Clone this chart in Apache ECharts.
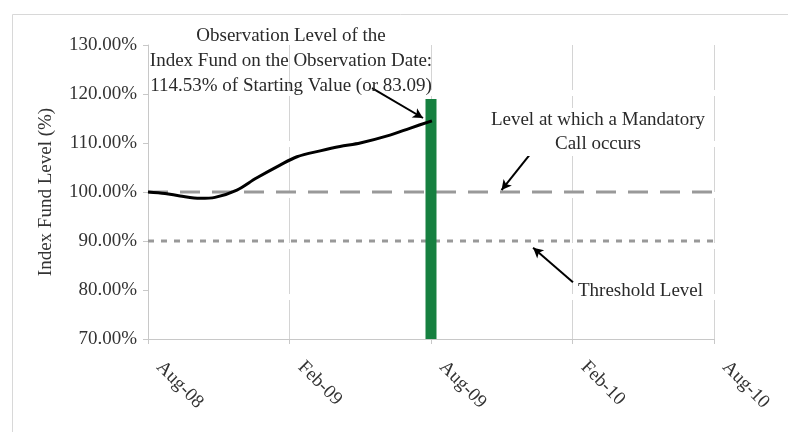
<!DOCTYPE html>
<html>
<head>
<meta charset="utf-8">
<script src="https://cdn.jsdelivr.net/npm/echarts@6/dist/echarts.min.js"></script>
<style>html,body{margin:0;padding:0;background:#fff;}#c{width:788px;height:432px;}</style>
</head>
<body>
<div id="c"></div>
<script>
// Months since Aug-08
const xTickLabels = ['Aug-08', 'Feb-09', 'Aug-09', 'Feb-10', 'Aug-10'];
const lineMonths = [0, 0.72, 1.36, 2.2, 2.84, 3.77, 4.58, 5.6, 6.32, 7.3, 8.14, 9.0, 10.26, 11.1, 12.04];
const lineValues = [100, 99.7, 99.2, 98.7, 98.9, 100.4, 102.8, 105.5, 107.2, 108.4, 109.3, 110.0, 111.6, 113.0, 114.53];
const observationMonth = [12.0];
const observationBar = [119];
const callLevel = 100;
const thresholdLevel = 90;
const rangeMonths = [0, 24];

const FONT = 'Liberation Serif';
const FS = 19;
const chart = echarts.init(document.getElementById('c'));
chart.setOption({
  animation: false,
  backgroundColor: '#fff',
  grid: { left: 148, right: 74, top: 45, bottom: 93 },
  xAxis: {
    type: 'value', min: 0, max: 24, interval: 6,
    axisLine: { show: true, lineStyle: { color: '#c8c8c8', width: 1 } },
    axisTick: { show: true, length: 5, lineStyle: { color: '#c8c8c8' } },
    axisLabel: {
      rotate: -45, margin: 14, color: '#333', fontFamily: FONT, fontSize: FS,
      padding: [0, 0, 0, 16],
      formatter: v => xTickLabels[Math.round(v / 6)] || ''
    },
    splitLine: { show: true, lineStyle: { color: '#d4d4d4', width: 1, type: [45, 6] } }
  },
  yAxis: {
    type: 'value', min: 70, max: 130, interval: 10,
    name: 'Index Fund Level (%)', nameLocation: 'middle', nameGap: 92,
    nameTextStyle: { color: '#333', fontFamily: FONT, fontSize: FS },
    axisLine: { show: true, lineStyle: { color: '#c8c8c8', width: 1 } },
    axisTick: { show: true, length: 5, lineStyle: { color: '#c8c8c8' } },
    axisLabel: { color: '#333', fontFamily: FONT, fontSize: FS, margin: 11,
      formatter: v => v.toFixed(2) + '%' },
    splitLine: { show: false }
  },
  series: [
    {
      type: 'line', data: rangeMonths.map(m => [m, callLevel]), symbol: 'none', z: 2,
      lineStyle: { color: '#999', width: 3, type: [20, 12] }
    },
    {
      type: 'line', data: rangeMonths.map(m => [m, thresholdLevel]), symbol: 'none', z: 2,
      lineStyle: { color: '#999', width: 3, type: [6, 7] }
    },
    {
      type: 'bar', data: observationMonth.map((m, i) => [m, observationBar[i]]),
      barWidth: 11, itemStyle: { color: '#168040' }, z: 3, clip: true
    },
    {
      type: 'line', data: lineMonths.map((m, i) => [m, lineValues[i]]), symbol: 'none',
      smooth: 0.3, z: 5,
      lineStyle: { color: '#000', width: 3 },
      markLine: {
        silent: true, symbol: ['none', 'arrow'], symbolSize: [8, 10],
        label: { show: false },
        lineStyle: { color: '#000', width: 2, type: 'solid' },
        data: [
          [{ coord: [9.5, 121.2] }, { coord: [11.66, 115.1] }],
          [{ coord: [16.45, 109.2] }, { coord: [14.99, 100.4] }],
          [{ coord: [18.02, 81.6] }, { coord: [16.33, 88.6] }]
        ]
      }
    }
  ],
  graphic: [
    { type: 'rect', left: 10, top: 12, shape: { width: 800, height: 440 }, z: -10,
      style: { fill: 'none', stroke: '#d8d8d8', lineWidth: 1 } },
    { type: 'text', x: 291, y: 61, z: 10, style: {
      text: 'Observation Level of the\nIndex Fund on the Observation Date:\n114.53% of Starting Value (or 83.09)',
      fontFamily: FONT, fontSize: FS, fill: '#2a2a2a', lineHeight: 25,
      align: 'center', verticalAlign: 'middle' } },
    { type: 'text', x: 598, y: 132, z: 10, style: {
      text: 'Level at which a Mandatory\nCall occurs',
      fontFamily: FONT, fontSize: FS, fill: '#2a2a2a', lineHeight: 24,
      align: 'center', verticalAlign: 'middle', backgroundColor: '#fff' } },
    { type: 'text', x: 578, y: 291, z: 10, style: {
      text: 'Threshold Level',
      fontFamily: FONT, fontSize: FS, fill: '#2a2a2a',
      align: 'left', verticalAlign: 'middle', backgroundColor: '#fff' } }
  ]
});
</script>
</body>
</html>
